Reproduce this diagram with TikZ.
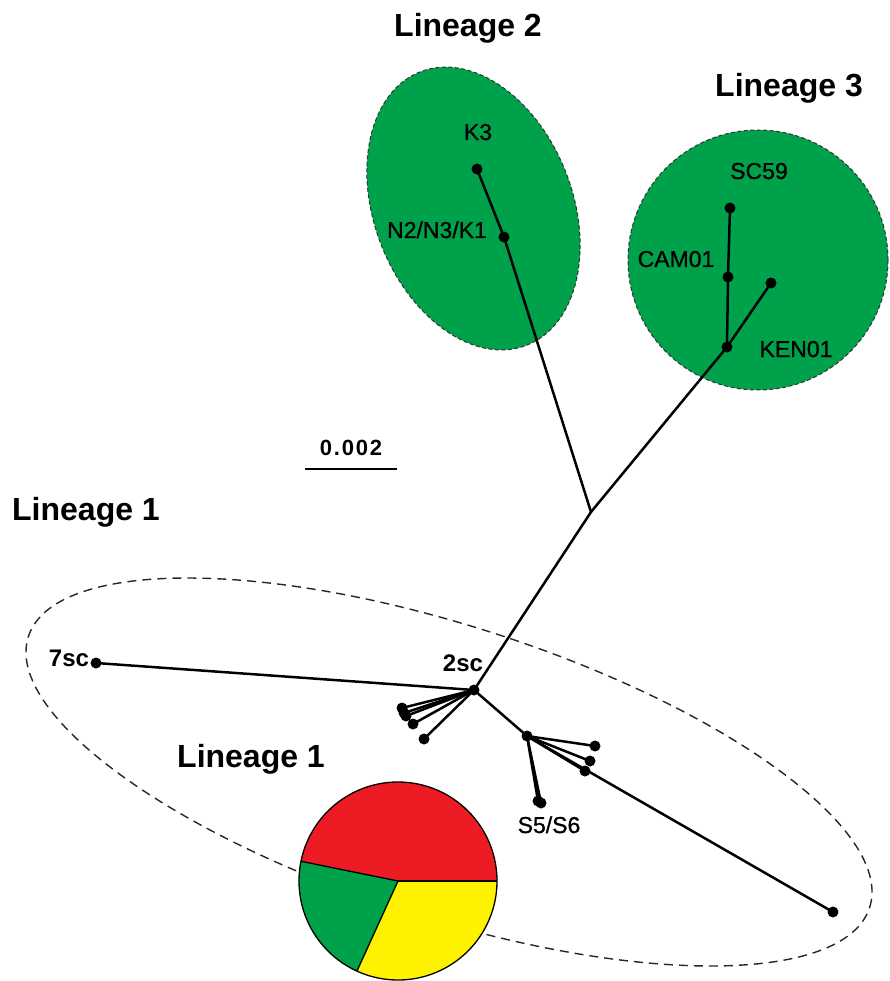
\documentclass[tikz,border=0pt]{standalone}
\usepackage{fontspec}
\setmainfont{Liberation Sans}
\usetikzlibrary{shapes.geometric}
\definecolor{lgreen}{RGB}{0,161,75}
\definecolor{pred}{RGB}{237,28,36}
\definecolor{pyellow}{RGB}{255,242,0}
\tikzset{
  branch/.style={line width=2.5pt, line cap=round},
  dot/.style={circle, fill=black, inner sep=0pt, minimum size=11pt},
  title/.style={font=\fontsize{32}{36}\selectfont\bfseries, anchor=base, inner sep=0pt},
  lab/.style={font=\fontsize{23}{26}\selectfont\addfontfeature{FakeBold=0.9}, anchor=base, inner sep=0pt},
  blab/.style={font=\fontsize{24}{26}\selectfont\bfseries, anchor=base, inner sep=0pt},
  greenzone/.style={fill=lgreen, draw=black!80, line width=1pt, dash pattern=on 4pt off 2.5pt, inner sep=0pt, outer sep=0pt},
}
\begin{document}
\begin{tikzpicture}[x=1pt, y=-1pt]
\useasboundingbox (0,0) rectangle (889,981);
% zones
\node[greenzone, ellipse, minimum width=293.4pt, minimum height=198.4pt, rotate=-68.8] (zoneTwo) at (473.5,208.5) {};
\node[greenzone, circle, minimum size=260pt] (zoneThree) at (758,260) {};
\node[ellipse, draw=black!85, line width=1.4pt, dash pattern=on 9pt off 6pt, minimum width=883.8pt, minimum height=291.8pt, inner sep=0pt, rotate=-17.85] (zoneOne) at (449,772) {};
% tree points
\coordinate (J) at (591,512);
\node[dot] (n2) at (504,237) {};
\node[dot] (k3) at (477,169) {};
\node[dot] (ken) at (727,347) {};
\node[dot] (cam) at (728,277) {};
\node[dot] (sc59) at (730,208) {};
\node[dot] (r3) at (771,283) {};
\node[dot] (sc2) at (474,690) {};
\node[dot] (sc7) at (96,663) {};
\node[dot] (fa) at (402,708) {};
\node[dot] (fb) at (404,713) {};
\node[dot] (fc) at (406,716) {};
\node[dot] (fd) at (413,724) {};
\node[dot] (fe) at (424,739) {};
\node[dot] (nb) at (527,736) {};
\node[dot] (ga) at (595,746) {};
\node[dot] (gb) at (590,761) {};
\node[dot] (gc) at (585,771) {};
\node[dot] (gend) at (833,912) {};
\node[dot] (s5) at (538,801) {};
\node[dot] (s6) at (541,803) {};
% branches
\draw[branch] (sc2.center) -- (J);
\draw[branch] (J) -- (n2.center) -- (k3.center);
\draw[branch] (J) -- (ken.center) -- (cam.center) -- (sc59.center);
\draw[branch] (ken.center) -- (r3.center);
\draw[branch] (sc2.center) -- (sc7.center);
\foreach \t in {fa,fb,fc,fd,fe} \draw[branch] (sc2.center) -- (\t.center);
\draw[branch] (sc2.center) -- (nb.center);
\foreach \t in {ga,gb,gc,gend,s5,s6} \draw[branch] (nb.center) -- (\t.center);
% scale bar
\coordinate (barL) at (305,469);
\coordinate (barR) at (397,469);
\draw[line width=2.5pt] (barL) -- (barR);
\node[font=\fontsize{22}{24}\selectfont\bfseries\addfontfeature{LetterSpace=8}, anchor=base, inner sep=0pt] (bartext) at (351,455) {0.002};
% titles
\node[title] (tTwo) at (468,37) {Lineage 2};
\node[title] (tThree) at (789,97) {Lineage 3};
\node[title] (tOne) at (86,520) {Lineage 1};
\node[title] (tOneB) at (251,767) {Lineage 1};
% labels
\node[lab] (lk3) at (478,140) {K3};
\node[lab] (ln2) at (437,238) {N2/N3/K1};
\node[lab] (lsc59) at (759,179) {SC59};
\node[lab] (lcam) at (676,267) {CAM01};
\node[lab] (lken) at (796,357) {KEN01};
\node[blab] (l7sc) at (69,666) {7sc};
\node[blab] (l2sc) at (463,671) {2sc};
\node[lab] (ls5) at (549,833) {S5/S6};
% pie
\coordinate (pc) at (398,881);
\fill[pred] (pc) -- ++(0:99pt) arc[start angle=0, end angle=168.5, radius=99pt] -- cycle;
\fill[lgreen] (pc) -- ++(168.5:99pt) arc[start angle=168.5, end angle=245.5, radius=99pt] -- cycle;
\fill[pyellow] (pc) -- ++(245.5:99pt) arc[start angle=245.5, end angle=360, radius=99pt] -- cycle;
\node[circle, draw=black, line width=1.3pt, minimum size=198pt, inner sep=0pt] (pie) at (pc) {};
\draw[line width=1.3pt] (pc) -- ++(0:99pt);
\draw[line width=1.3pt] (pc) -- ++(168.5:99pt);
\draw[line width=1.3pt] (pc) -- ++(245.5:99pt);
\end{tikzpicture}
\end{document}
